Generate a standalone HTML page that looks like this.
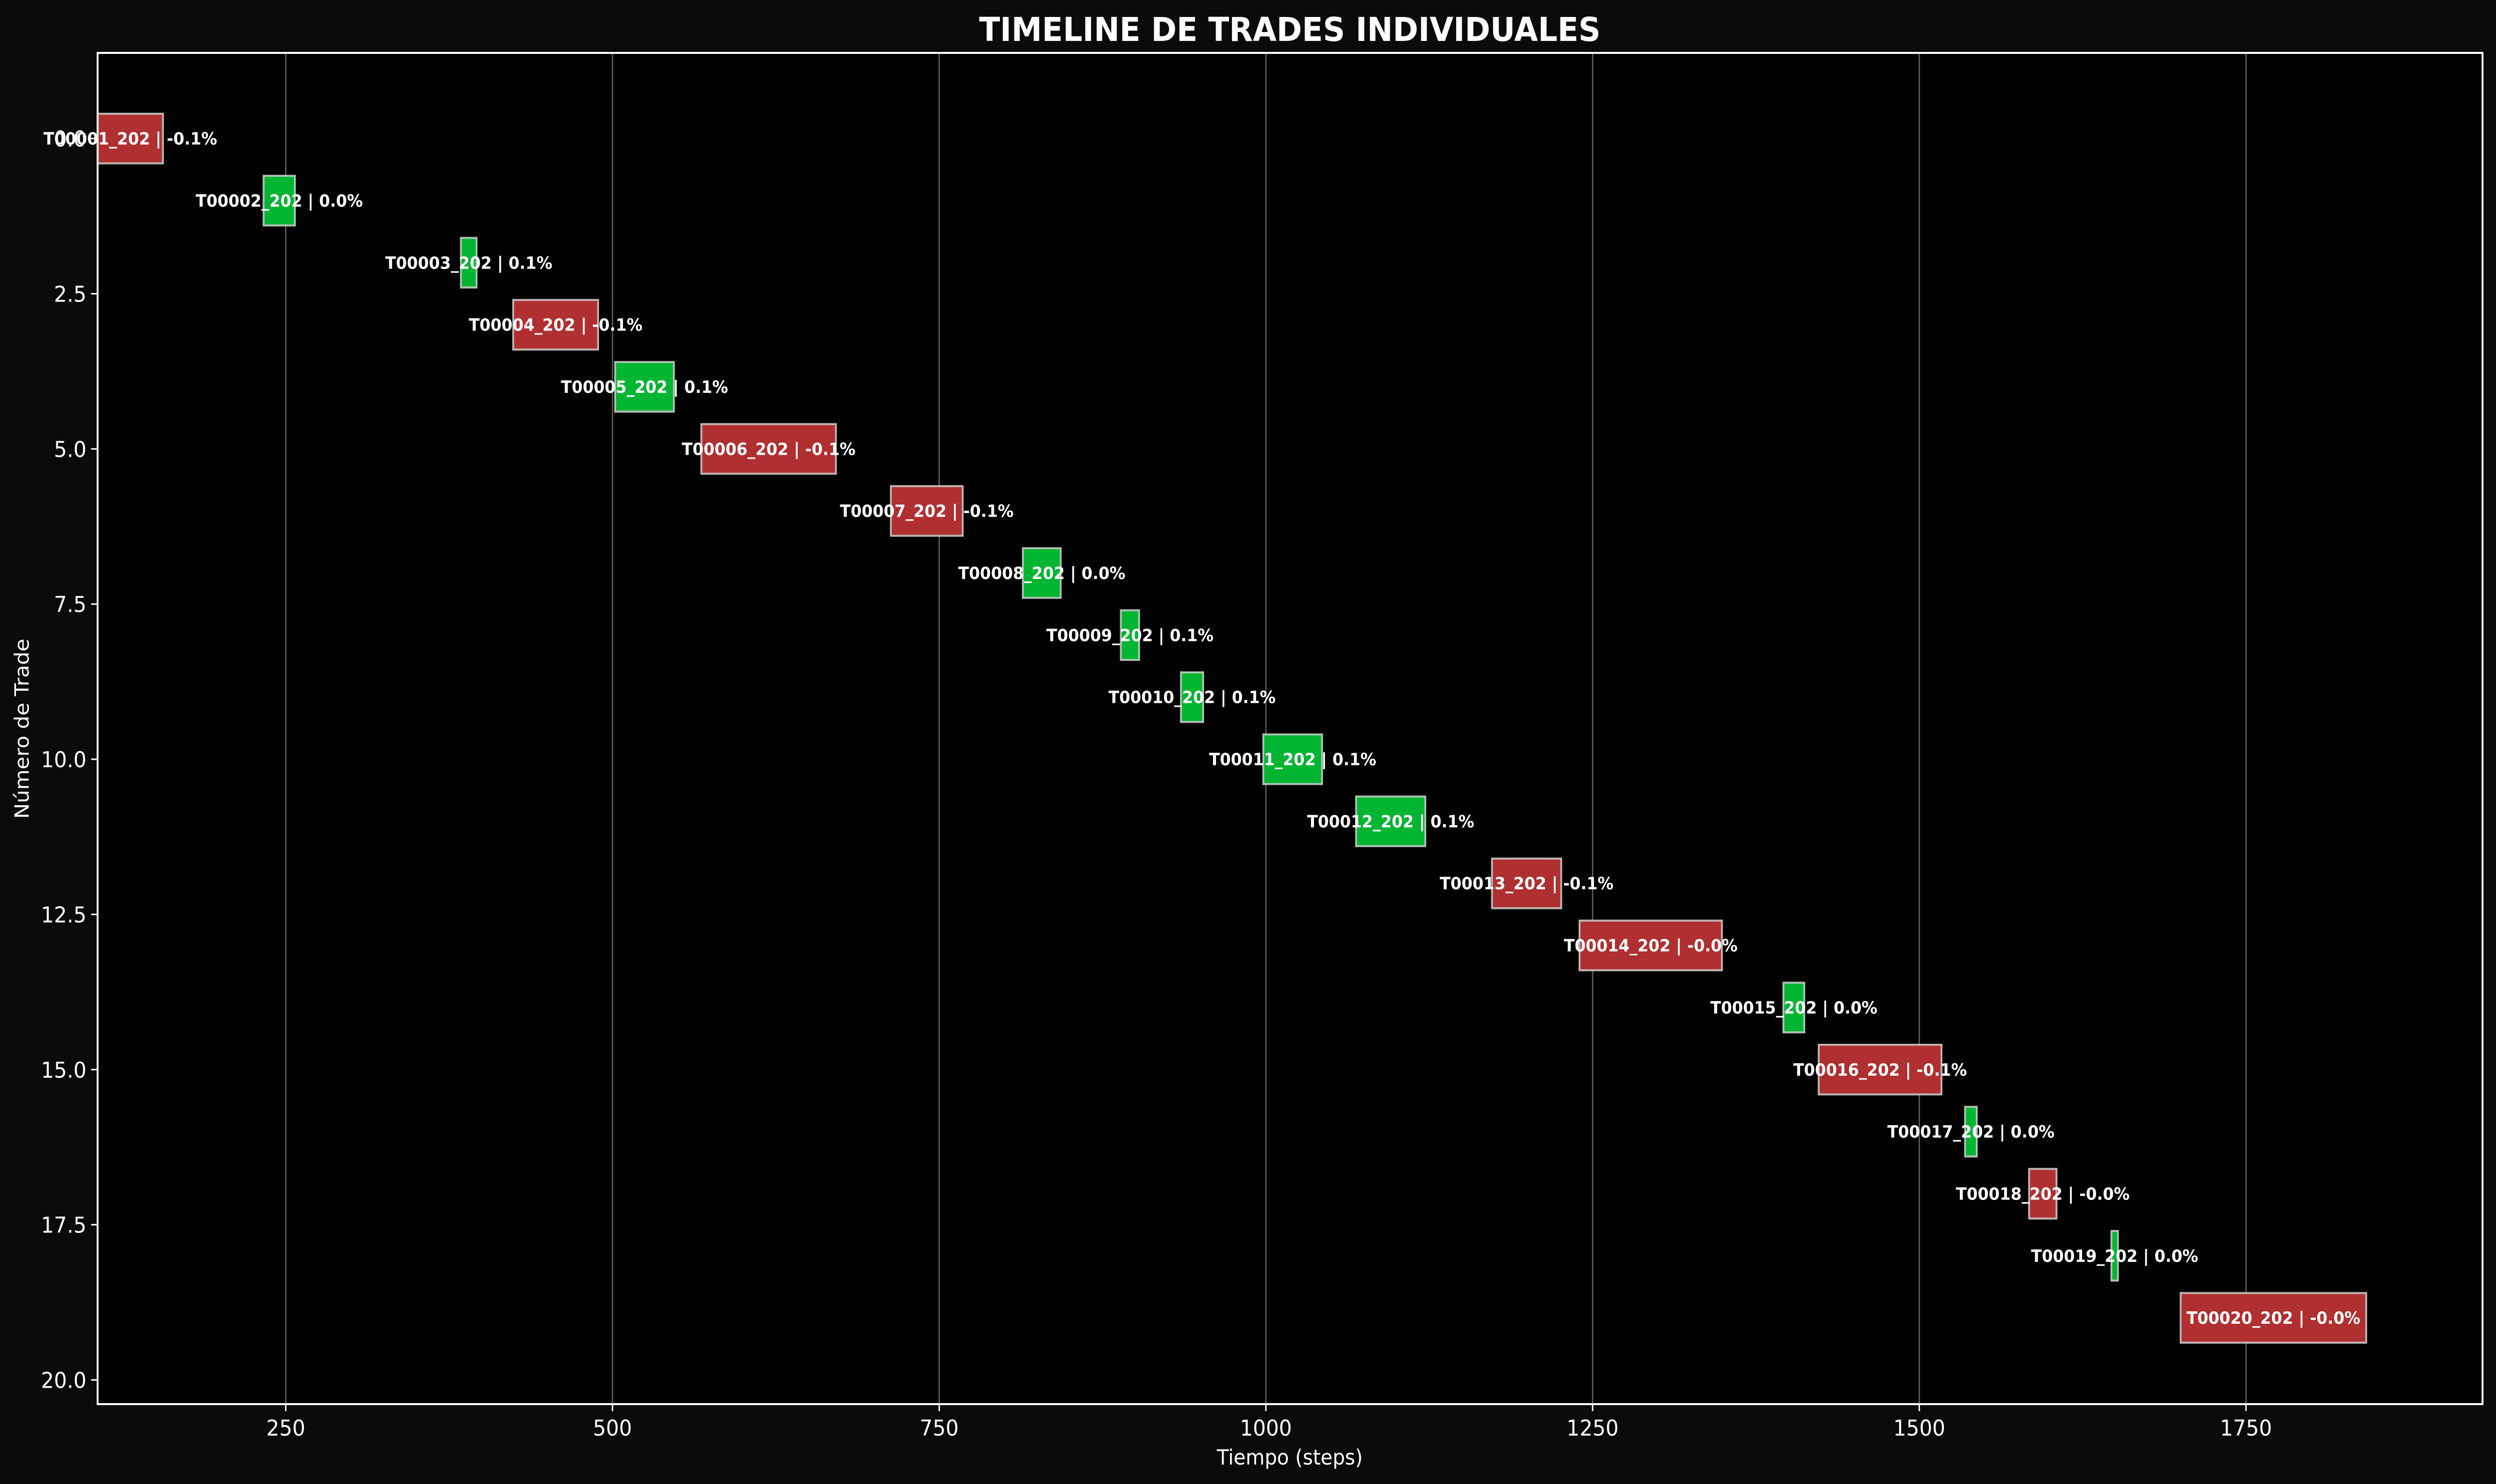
<!DOCTYPE html>
<html><head><meta charset="utf-8"><style>
html,body{margin:0;padding:0;background:#0b0b0b;width:100%;height:100%;overflow:hidden;}
svg{display:block;position:absolute;left:0;top:0;width:100vw;height:100vh;}
text{font-family:"DejaVu Sans","Liberation Sans",sans-serif;fill:#fff;}
</style></head><body>
<svg id="chart" viewBox="0 0 5370 2973" preserveAspectRatio="none" xmlns="http://www.w3.org/2000/svg">
<rect x="0" y="0" width="5370" height="2973" fill="#0b0b0b"/>
<rect x="210" y="106" width="5131" height="2707" fill="#000"/>
<g id="grid"></g>
<g id="bars"></g>
<g id="axes"></g>
<text x="2775" y="82" text-anchor="middle" font-size="66" font-weight="bold">TIMELINE DE TRADES INDIVIDUALES</text>
<text x="2775" y="2934" text-anchor="middle" font-size="42">Tiempo (steps)</text>
<text transform="translate(62,1460) rotate(-90)" text-anchor="middle" font-size="42">Número de Trade</text>
</svg>
<script>
const tradeIds = ["T00001_202","T00002_202","T00003_202","T00004_202","T00005_202","T00006_202","T00007_202","T00008_202","T00009_202","T00010_202","T00011_202","T00012_202","T00013_202","T00014_202","T00015_202","T00016_202","T00017_202","T00018_202","T00019_202","T00020_202"];
const startSteps = [106,233,384,424,502,568,713,814,889,935,998,1069,1173,1240,1396,1423,1535,1584,1647,1700];
const endSteps = [156,257,396,489,547,671,768,843,903,952,1043,1122,1226,1349,1412,1517,1544,1605,1652,1842];
const pnlLabels = ["-0.1%","0.0%","0.1%","-0.1%","0.1%","-0.1%","-0.1%","0.0%","0.1%","0.1%","0.1%","0.1%","-0.1%","-0.0%","0.0%","-0.1%","0.0%","-0.0%","0.0%","-0.0%"];
const xTicks = [250,500,750,1000,1250,1500,1750];
const yTicks = [0,2.5,5,7.5,10,12.5,15,17.5,20];

const NS="http://www.w3.org/2000/svg";
const L=210,R=5341,T=106,B=2813;
const X0=106,X1=1931,Y0=-1.38,Y1=20.39;
function sx(v){return L+(v-X0)/(X1-X0)*(R-L);}
function sy(v){return T+(v-Y0)/(Y1-Y0)*(B-T);}
function mk(tag,attrs,parent){const e=document.createElementNS(NS,tag);for(const k in attrs)e.setAttribute(k,attrs[k]);parent.appendChild(e);return e;}
const grid=document.getElementById('grid'),bars=document.getElementById('bars'),axes=document.getElementById('axes');

xTicks.forEach(t=>{
  const x=sx(t);
  const g=mk('line',{x1:x,x2:x,y1:T,y2:B,stroke:'#5a5a5a','stroke-width':3},grid);
  
  
  const tk=mk('line',{x1:x,x2:x,y1:B,y2:B+14,stroke:'#fff','stroke-width':3},axes);
  
  
  const lb=mk('text',{x:x,y:B+63,'text-anchor':'middle','font-size':44},axes);
  lb.textContent=String(t);
  
  
});
yTicks.forEach(t=>{
  const y=sy(t);
  const tk=mk('line',{x1:L-14,x2:L,y1:y,y2:y,stroke:'#fff','stroke-width':3},axes);
  
  
  const lb=mk('text',{x:L-24,y:y+16,'text-anchor':'end','font-size':44},axes);
  lb.textContent=t.toFixed(1);
  
  
});
const bh=(sy(0.8)-sy(0));
tradeIds.forEach((id,i)=>{
  const x0=sx(startSteps[i]),x1=sx(endSteps[i]),yc=sy(i);
  const neg=pnlLabels[i].startsWith('-');
  const r=mk('rect',{x:x0,y:yc-bh/2,width:Math.max(1,x1-x0),height:bh,fill:neg?'#b02f30':'#00b531',stroke:'#d0d0d0','stroke-opacity':0.85,'stroke-width':4},bars);
  
  
  const tx=mk('text',{x:(x0+x1)/2,y:yc+12,'text-anchor':'middle','font-size':34,'font-weight':'bold'},bars);
  tx.textContent=id+' | '+pnlLabels[i];
  
  
});
const fr=mk('rect',{x:L,y:T,width:R-L,height:B-T,fill:'none',stroke:'#fff','stroke-width':4},axes);


</script>
</body></html>
